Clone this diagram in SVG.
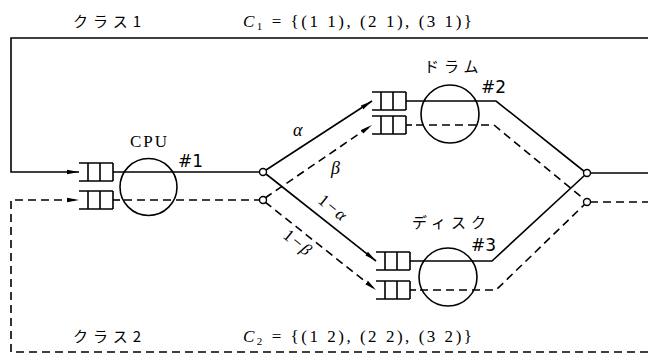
<svg xmlns="http://www.w3.org/2000/svg" width="648" height="358" viewBox="0 0 648 358">
<style>
.s{fill:none;stroke:#000;stroke-width:1.6}
.d{fill:none;stroke:#000;stroke-width:1.6;stroke-dasharray:8 5}
.c{fill:none;stroke:#000;stroke-width:1.6}
.n{fill:#fff;stroke:#000;stroke-width:1.4}
.q{fill:none;stroke:#000;stroke-width:1.6}
.jp{font-family:"Noto Sans CJK JP","Noto Sans CJK SC",sans-serif;font-size:15px;letter-spacing:5px}
.t{font-family:"Liberation Serif",serif;font-size:17px}
.g{font-family:"Liberation Serif",serif;font-size:18px;font-style:italic}
.h{font-family:"DejaVu Sans",sans-serif;font-size:17px}
</style>
<defs>
<marker id="a" viewBox="0 0 12 6" refX="12" refY="3" markerWidth="12" markerHeight="6" markerUnits="userSpaceOnUse" orient="auto">
<path d="M0,0.8 L12,3 L0,5.2 Z" fill="#000"/>
</marker>
<path id="qs" class="q" d="M0,0 H34 M0,18 H34 M9,0 V18 M21,0 V18 M34,0 V18"/>
</defs>

<g id="labels">
<text class="jp" x="73" y="27">クラス1</text>
<text class="t" x="243" y="27" textLength="229" lengthAdjust="spacing"><tspan font-style="italic">C</tspan><tspan font-size="11" dy="3">1</tspan><tspan dy="-3"> = {(1 1), (2 1), (3 1)}</tspan></text>
<text class="jp" x="73" y="342">クラス2</text>
<text class="t" x="243" y="342" textLength="229" lengthAdjust="spacing"><tspan font-style="italic">C</tspan><tspan font-size="11" dy="3">2</tspan><tspan dy="-3"> = {(1 2), (2 2), (3 2)}</tspan></text>
</g>

<g id="connectors">
<polyline class="s" points="648,38 11,38 11,172 79,172" marker-end="url(#a)"/>
<polyline class="d" points="648,352 11,352 11,200 79,200" marker-end="url(#a)"/>
<line class="s" x1="113" y1="172" x2="260" y2="172"/>
<line class="s" x1="113" y1="200" x2="120" y2="200"/>
<line class="d" x1="124" y1="200" x2="260" y2="200"/>
<line class="s" x1="266" y1="170" x2="372" y2="101" marker-end="url(#a)"/>
<line class="s" x1="266" y1="174" x2="376" y2="261" marker-end="url(#a)"/>
<line class="d" x1="265" y1="198" x2="372" y2="125" marker-end="url(#a)"/>
<line class="d" x1="265" y1="202" x2="376" y2="290" marker-end="url(#a)"/>
<polyline class="s" points="406,101 496,101 585,172"/>
<line class="s" x1="406" y1="125" x2="412" y2="125"/>
<polyline class="d" points="416,125 494,125 585,200"/>
<polyline class="s" points="410,261 492,261 585,175"/>
<line class="s" x1="410" y1="290" x2="416" y2="290"/>
<polyline class="d" points="420,290 496,290 585,204"/>
<line class="s" x1="590" y1="173" x2="648" y2="173"/>
<line class="d" x1="590" y1="202" x2="648" y2="202"/>
<text class="g" x="293" y="136">α</text>
<text class="g" x="331" y="174">β</text>
<text class="t" font-size="18" transform="translate(317,202) rotate(39)"><tspan>1</tspan><tspan dx="2">−</tspan><tspan dx="2" font-style="italic">α</tspan></text>
<text class="t" font-size="18" transform="translate(282,237) rotate(39)"><tspan>1</tspan><tspan dx="2">−</tspan><tspan dx="2" font-style="italic">β</tspan></text>
</g>

<g id="cpu">
<use href="#qs" x="79" y="163"/>
<use href="#qs" x="79" y="191"/>
<circle class="c" cx="148.5" cy="187" r="28.5"/>
<text class="t" x="130" y="147" letter-spacing="2">CPU</text>
<text class="h" x="178" y="167">#1</text>
</g>

<g id="drum">
<use href="#qs" x="372" y="92"/>
<use href="#qs" x="372" y="116"/>
<circle class="c" cx="450" cy="114" r="29"/>
<text class="jp" x="424" y="72" font-size="13" letter-spacing="1">ドラム</text>
<text class="h" x="481" y="93">#2</text>
</g>

<g id="disk">
<use href="#qs" x="376" y="252"/>
<use href="#qs" x="376" y="281"/>
<circle class="c" cx="448" cy="277" r="29"/>
<text class="jp" x="412" y="228" font-size="15" letter-spacing="3">ディスク</text>
<text class="h" x="471" y="251">#3</text>
</g>

<g id="nodes">
<circle class="n" cx="263" cy="172" r="3.5"/>
<circle class="n" cx="263" cy="200" r="3.5"/>
<circle class="n" cx="587" cy="173" r="3.5"/>
<circle class="n" cx="587" cy="202" r="3.5"/>
</g>
</svg>
